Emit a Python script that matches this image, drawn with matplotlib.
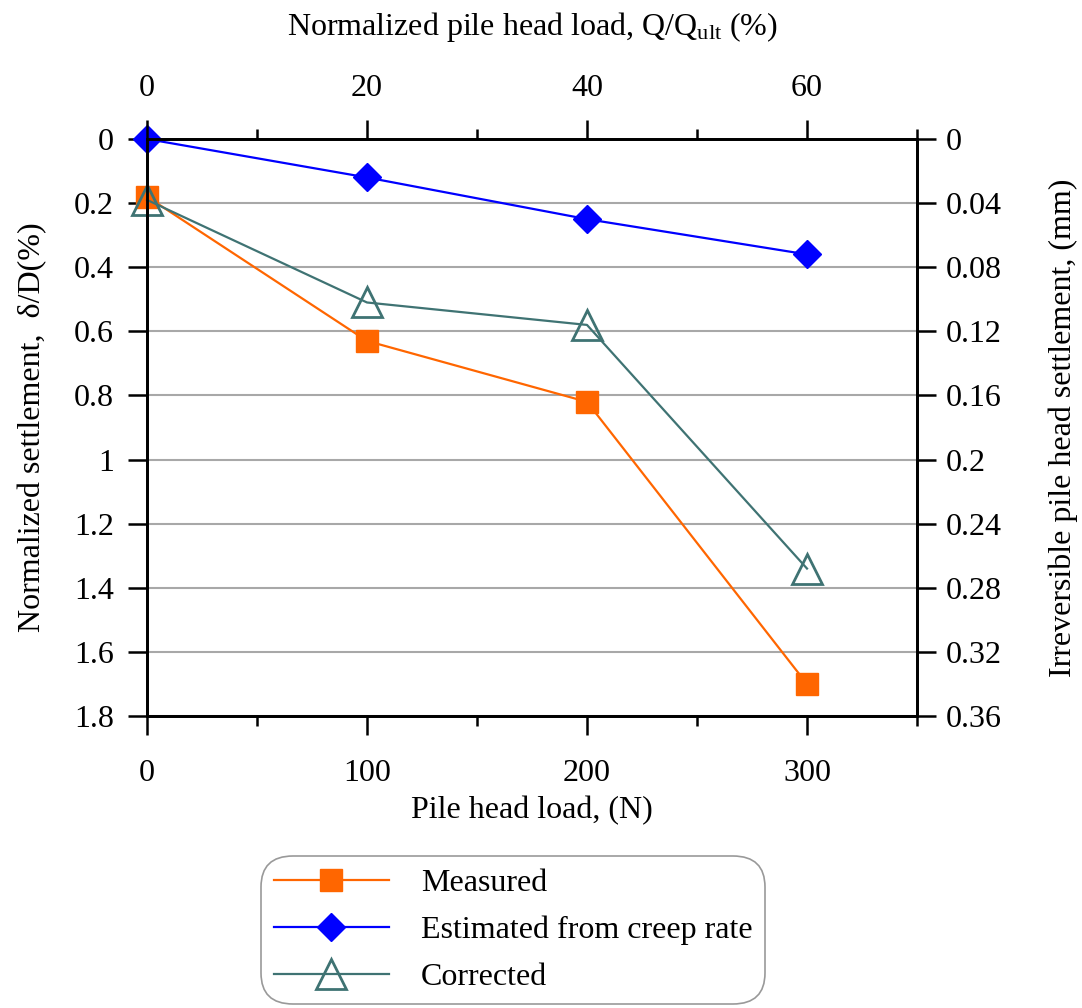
import numpy as np
import matplotlib
matplotlib.use('Agg')
import matplotlib.pyplot as plt
from matplotlib.ticker import MultipleLocator, FuncFormatter

plt.rcParams['font.family'] = ['Liberation Serif', 'DejaVu Serif']
plt.rcParams['mathtext.fontset'] = 'custom'
plt.rcParams['mathtext.rm'] = 'Liberation Serif'
plt.rcParams['mathtext.it'] = 'Liberation Serif:italic'

# data
load = [0, 100, 200, 300]
measured = [0.18, 0.63, 0.82, 1.70]
estimated = [0.0, 0.12, 0.25, 0.36]
corrected = [0.19, 0.51, 0.58, 1.34]

fs = 23
fmt = FuncFormatter(lambda v, p: '%g' % round(v, 3))

fig = plt.figure(figsize=(10.82, 10.08), dpi=100)
ax = fig.add_axes([147/1082, 1 - 716/1008, 770/1082, 577/1008])

ax.plot(load, measured, color='#ff6600', lw=1.6, marker='s', ms=16,
        mfc='#ff6600', mec='#ff6600', label='Measured', zorder=3, clip_on=False)
ax.plot(load, estimated, color='#0000ff', lw=1.6, marker='D', ms=14,
        mfc='#0000ff', mec='#0000ff', label='Estimated from creep rate',
        zorder=4, clip_on=False)
ax.plot(load, corrected, color='#3f7373', lw=1.6, marker='^', ms=22,
        mfc='none', mec='#3f7373', mew=2, label='Corrected', zorder=5,
        clip_on=False)

ax.set_xlim(0, 350)
ax.set_ylim(1.8, 0)
ax.xaxis.set_major_locator(MultipleLocator(100))
ax.xaxis.set_minor_locator(MultipleLocator(50))
ax.yaxis.set_major_locator(MultipleLocator(0.2))
ax.yaxis.set_major_formatter(fmt)
ax.yaxis.grid(True, color='#a8a8a8', lw=1.5)
ax.set_axisbelow(True)
ax.tick_params(axis='x', which='major', direction='out', length=14, width=1.8,
               labelsize=fs, pad=17)
ax.tick_params(axis='x', which='minor', direction='out', length=7, width=1.8)
ax.tick_params(axis='y', direction='out', length=14, width=1.8, labelsize=fs, pad=10)
for s in ax.spines.values():
    s.set_linewidth(1.8)
ax.set_xlabel('Pile head load, (N)', fontsize=fs, labelpad=6)
ax.set_ylabel('Normalized settlement,  \u03b4/D(%)', fontsize=fs, labelpad=19)

# top axis: normalized load
axt = ax.twiny()
axt.set_xlim(0, 70)
axt.xaxis.set_major_locator(MultipleLocator(20))
axt.xaxis.set_minor_locator(MultipleLocator(10))
axt.tick_params(axis='x', which='major', direction='out', length=14, width=1.8,
                labelsize=fs, pad=12)
axt.tick_params(axis='x', which='minor', direction='out', length=7, width=1.8)
axt.set_xlabel(r'Normalized pile head load, Q/Q$_{\mathrm{ult}}$ (%)', fontsize=fs,
               labelpad=28)

# right axis: irreversible settlement
axr = ax.twinx()
axr.set_ylim(0.36, 0)
axr.yaxis.set_major_locator(MultipleLocator(0.04))
axr.yaxis.set_major_formatter(fmt)
axr.tick_params(axis='y', direction='out', length=14, width=1.8, labelsize=fs, pad=7)
axr.set_ylabel('Irreversible pile head settlement, (mm)', fontsize=fs, labelpad=33)
for a in (axt, axr):
    for s in a.spines.values():
        s.set_linewidth(1.8)

h, l = ax.get_legend_handles_labels()
leg = fig.legend(h, l, loc='center', bbox_to_anchor=(513/1082, 1 - 930/1008),
                 fontsize=fs, frameon=True, fancybox=True, handlelength=3.6,
                 handletextpad=1.0, labelspacing=0.55, borderpad=0.4,
                 borderaxespad=0)
leg.get_frame().set_edgecolor('#808080')
leg.get_frame().set_linewidth(1.2)
leg.get_frame().set_boxstyle('round,pad=0,rounding_size=1.0')

fig.savefig('out.png', dpi=100)
